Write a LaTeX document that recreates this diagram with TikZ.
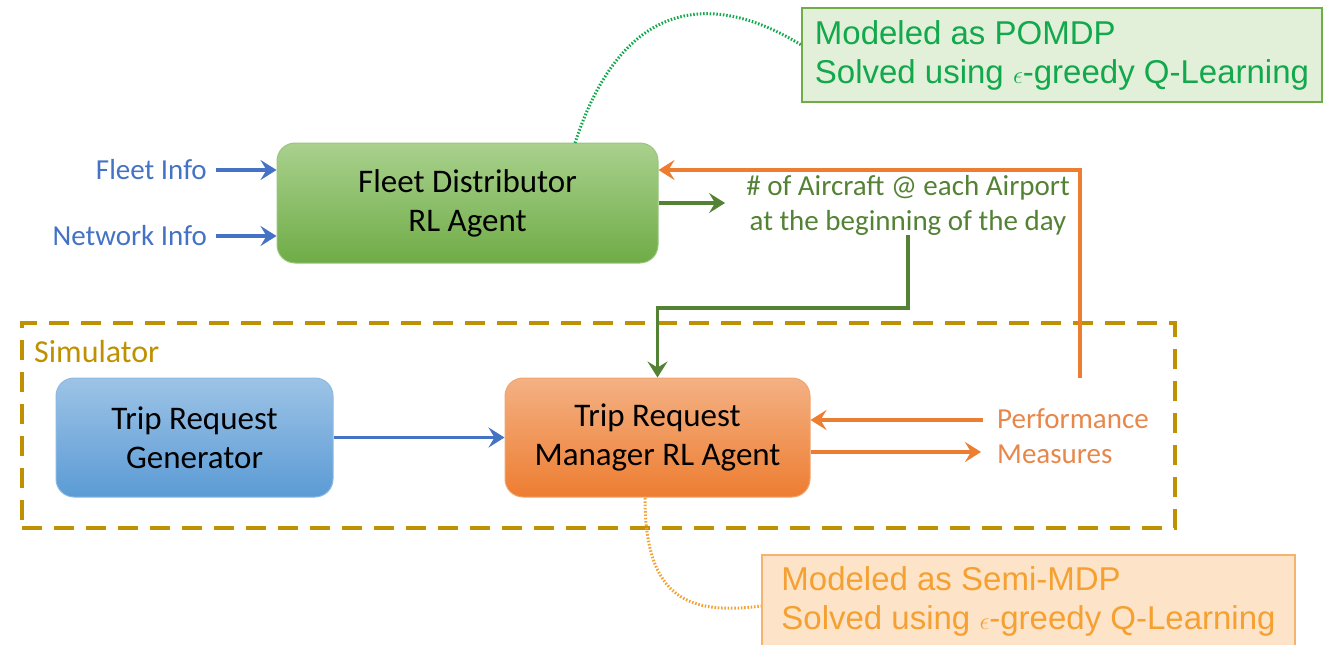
\documentclass[tikz,border=0pt]{standalone}
\usepackage{fontspec}
\setmainfont{Carlito}
\newfontfamily\annfont{Liberation Sans}
\usetikzlibrary{arrows.meta}
\definecolor{cblue}{HTML}{4472C4}
\definecolor{cgreen}{HTML}{548235}
\definecolor{corange}{HTML}{ED7D31}
\definecolor{cperf}{HTML}{E8874A}
\definecolor{cgold}{HTML}{BF9000}
\definecolor{anngreentext}{HTML}{12A84C}
\definecolor{anngreenfill}{HTML}{E2F0D9}
\definecolor{anngreendraw}{HTML}{70AD47}
\definecolor{annorgtext}{HTML}{F5A030}
\definecolor{annorgfill}{HTML}{FDE4C8}
\definecolor{annorgdraw}{HTML}{F5B370}
\definecolor{gtop}{HTML}{A9D18E}
\definecolor{gbot}{HTML}{6FAC46}
\definecolor{btop}{HTML}{9DC3E6}
\definecolor{bbot}{HTML}{5B9BD5}
\definecolor{otop}{HTML}{F4B183}
\definecolor{obot}{HTML}{ED7D31}
\begin{document}
\begin{tikzpicture}[x=1pt,y=-1pt,
  agent/.style={rounded corners=18pt, align=center, line width=1pt,
    font=\fontsize{33}{39}\selectfont, text=black},
  lbl/.style={inner sep=0pt, font=\fontsize{29}{35}\selectfont, align=center},
  tip/.style={-{Stealth[length=16pt,width=20pt,inset=6pt]}},
  barrow/.style={tip, draw=cblue, line width=3.5pt},
  garrow/.style={tip, draw=cgreen, line width=3.5pt},
  oarrow/.style={tip, draw=corange, line width=3.5pt},
  ann/.style={align=left, line width=1.5pt, inner sep=0pt,
    font=\annfont\fontsize{33}{39}\selectfont},
  gdot/.style={draw=anngreentext, line width=3pt, dash pattern=on 1.5pt off 1.8pt},
  odot/.style={draw=annorgtext, line width=3pt, dash pattern=on 1.5pt off 1.8pt}
]
\useasboundingbox (0,0) rectangle (1326,645);

% simulator frame
\node[draw=cgold, line width=4pt, dash pattern=on 20pt off 12pt,
  minimum width=1153pt, minimum height=205pt, inner sep=0pt] (sim) at (598.5,425.5) {};
\node[anchor=west, inner sep=0pt, text=cgold, font=\fontsize{32}{35}\selectfont] (simlabel) at (34,352) {Simulator};

% agents
\node[agent, draw=gbot!70, top color=gtop, bottom color=gbot,
  minimum width=381pt, minimum height=120pt] (fd) at (467.5,203) {Fleet Distributor\\RL Agent};
\node[agent, draw=bbot!70, top color=btop, bottom color=bbot,
  minimum width=277pt, minimum height=119pt] (trg) at (194.5,437.5) {Trip Request\\Generator};
\node[agent, draw=obot!70, top color=otop, bottom color=obot,
  minimum width=305pt, minimum height=119pt] (trm) at (657.5,437.5) {Trip Request\\Manager RL Agent};

% labels
\node[lbl, anchor=east, text=cblue] (fleetinfo) at (207,170) {Fleet Info};
\node[lbl, anchor=east, text=cblue] (netinfo) at (207,236) {Network Info};
\node[lbl, text=cgreen] (aircraft) at (908,205) {\# of Aircraft @ each Airport\\at the beginning of the day};
\node[lbl, anchor=west, align=left, text=cperf] (perf) at (997,436) {Performance\\Measures};

% annotations
\node[ann, draw=anngreendraw, fill=anngreenfill, text=anngreentext,
  minimum width=520pt, minimum height=94pt] (ann1) at (1062,55)
  {Modeled as POMDP\\Solved using $\epsilon$-greedy Q-Learning};
\node[ann, draw=annorgdraw, fill=annorgfill, text=annorgtext,
  minimum width=533pt, minimum height=92pt] (ann2) at (1028.5,601)
  {Modeled as Semi-MDP\\Solved using $\epsilon$-greedy Q-Learning};

% input arrows
\draw[barrow, shorten <=9pt] (fleetinfo.east) -- (fleetinfo.east -| fd.west);
\draw[barrow, shorten <=9pt] (netinfo.east) -- (netinfo.east -| fd.west);
\draw[barrow] (trg.east) -- (trm.west);

% fleet distributor output
\draw[garrow, shorten >=21pt] (fd.east) -- (fd.east -| aircraft.west);
\coordinate (gbend) at (908,308);
\draw[garrow] (aircraft.south) -- (gbend) -| (trm.north);

% feedback
\coordinate (fbstart) at (1080,378);
\coordinate (fbcorner) at (1080,170);
\draw[oarrow] (fbstart) -- (fbcorner) -- (fbcorner -| fd.east);
\draw[oarrow, shorten <=14pt] (perf.west |- 0,420) -- (trm.east |- 0,420);
\draw[oarrow, shorten >=16pt] (trm.east |- 0,452) -- (perf.west |- 0,452);

% annotation connectors
\coordinate (fdtop) at (575,143);
\draw[gdot] (fdtop) .. controls (625,-10) and (720,-5) .. (ann1.west |- 0,45);
\coordinate (trmbot) at (645,498);
\draw[odot] (trmbot) .. controls (645,600) and (690,615) .. (ann2.west |- 0,606);
\end{tikzpicture}
\end{document}
